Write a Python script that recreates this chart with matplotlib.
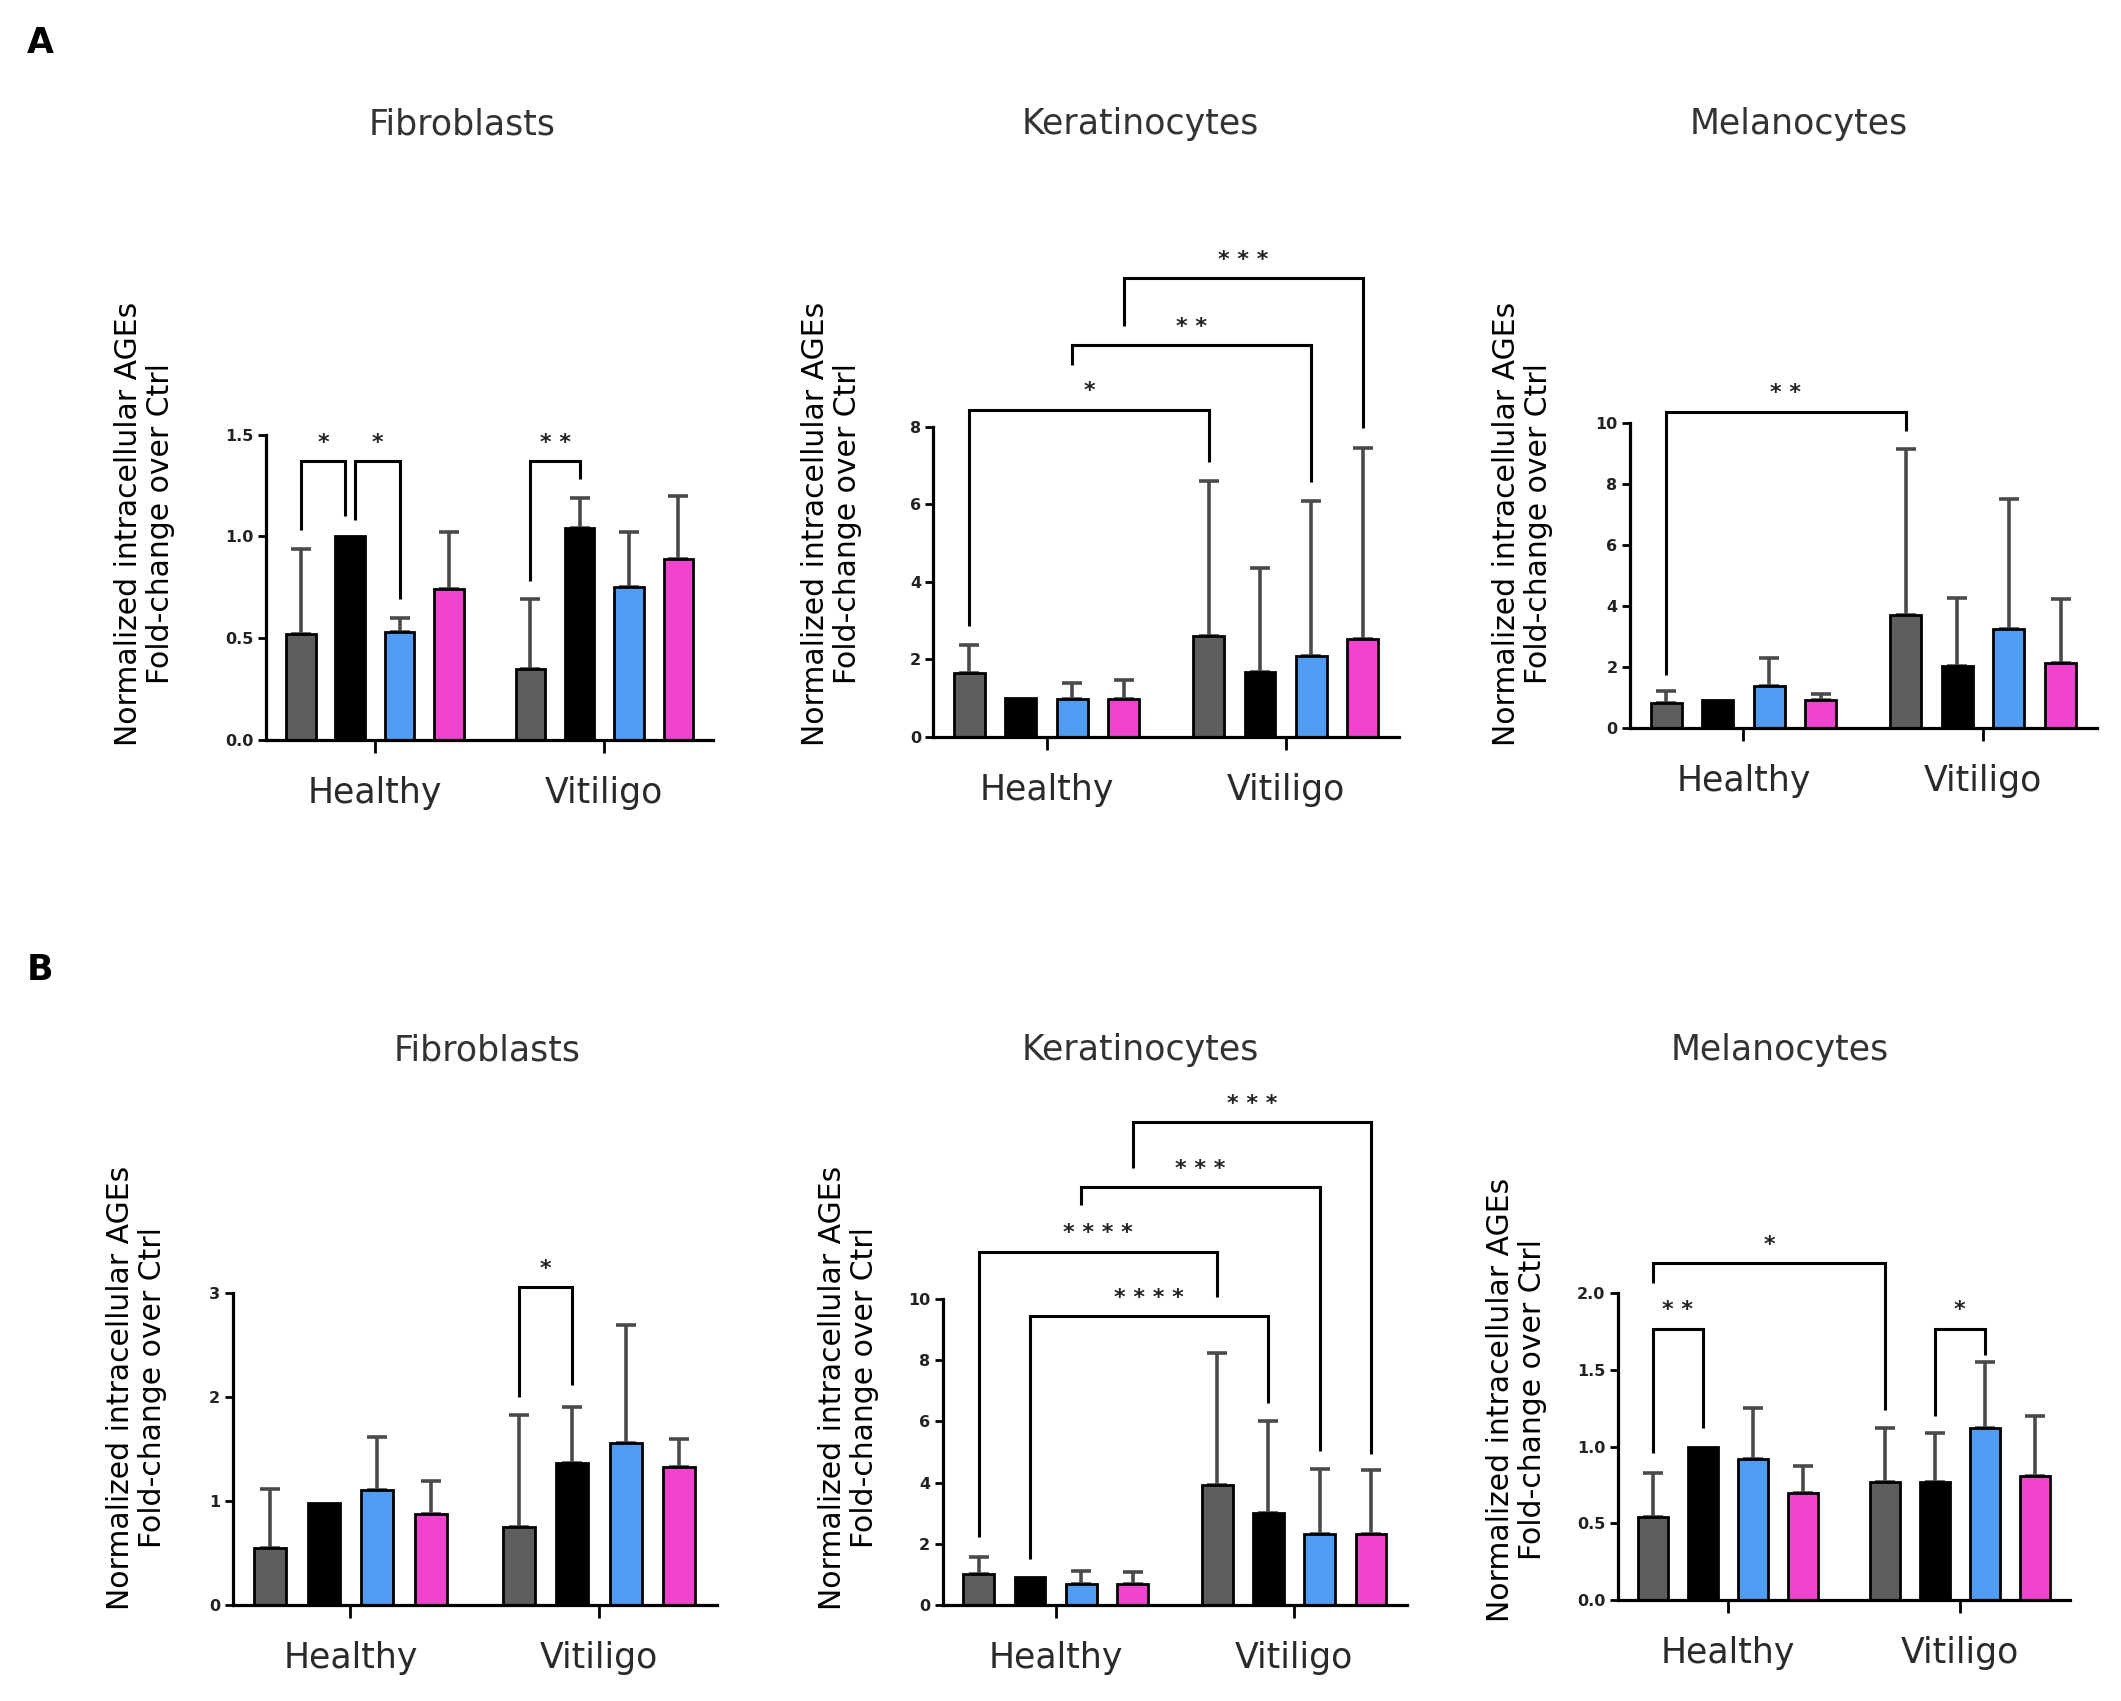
import matplotlib

matplotlib.use("Agg")
import matplotlib.pyplot as plt
import numpy as np


GROUPS = ["Healthy", "Vitiligo"]
BAR_COLORS = ["#5e5e5e", "#000000", "#519cf3", "#f044cf"]
ERR_COLOR = "#4a4a4a"
YLABEL = "Normalized intracellular AGEs\nFold-change over Ctrl"

# bar heights (4 conditions in Healthy, then 4 in Vitiligo) and upper SD
fib_a_mean = [0.52, 1.00, 0.53, 0.74, 0.35, 1.04, 0.75, 0.89]
fib_a_sd = [0.42, 0.00, 0.07, 0.28, 0.34, 0.15, 0.27, 0.31]
ker_a_mean = [1.66, 1.00, 0.97, 0.97, 2.61, 1.67, 2.10, 2.53]
ker_a_sd = [0.70, 0.00, 0.42, 0.51, 3.99, 2.69, 3.99, 4.93]
mel_a_mean = [0.80, 0.91, 1.35, 0.91, 3.68, 2.02, 3.25, 2.13]
mel_a_sd = [0.40, 0.00, 0.93, 0.19, 5.44, 2.22, 4.25, 2.08]

fib_b_mean = [0.55, 0.98, 1.11, 0.88, 0.75, 1.37, 1.56, 1.33]
fib_b_sd = [0.57, 0.00, 0.51, 0.32, 1.08, 0.54, 1.14, 0.27]
ker_b_mean = [1.02, 0.91, 0.69, 0.69, 3.91, 3.02, 2.34, 2.34]
ker_b_sd = [0.55, 0.00, 0.43, 0.40, 4.31, 2.99, 2.10, 2.06]
mel_b_mean = [0.54, 1.00, 0.92, 0.70, 0.77, 0.77, 1.12, 0.81]
mel_b_sd = [0.29, 0.00, 0.33, 0.17, 0.35, 0.32, 0.43, 0.39]

# significance brackets: (bar i, bar j, stars, bracket height, left leg end, right leg end)
fib_a_sig = [(0, 1, "*", 1.37, 1.03, 1.10), (1, 2, "*", 1.37, 1.08, 0.69), (4, 5, "**", 1.37, 0.78, 1.28)]
ker_a_sig = [(0, 4, "*", 8.44, 2.85, 7.09), (2, 6, "**", 10.1, 9.6, 6.56), (3, 7, "***", 11.82, 10.59, 7.97)]
mel_a_sig = [(0, 4, "**", 10.36, 1.72, 9.72)]
fib_b_sig = [(4, 5, "*", 3.06, 2.0, 2.12)]
ker_b_sig = [(0, 4, "****", 11.54, 2.21, 10.06), (1, 5, "****", 9.45, 1.51, 6.59),
             (2, 6, "***", 13.64, 13.06, 5.04), (3, 7, "***", 15.75, 14.27, 4.95)]
mel_b_sig = [(0, 1, "**", 1.77, 0.96, 1.12), (0, 4, "*", 2.20, 2.07, 1.24), (5, 6, "*", 1.77, 1.20, 1.60)]

fib_a_ticks = [0, 0.5, 1.0, 1.5]
ker_a_ticks = [0, 2, 4, 6, 8]
mel_a_ticks = [0, 2, 4, 6, 8, 10]
fib_b_ticks = [0, 1, 2, 3]
ker_b_ticks = [0, 2, 4, 6, 8, 10]
mel_b_ticks = [0, 0.5, 1.0, 1.5, 2.0]

# layout in figure fractions (left, bottom, width, height), title x/y, ylabel x/y
PANELS = [
    ("Fibroblasts", fib_a_mean, fib_a_sd, fib_a_sig, fib_a_ticks, "{:.1f}", [0.1256, 0.5651, 0.2105, 0.1794], 0.218, 0.927, 0.068, 0.692),
    ("Keratinocytes", ker_a_mean, ker_a_sd, ker_a_sig, ker_a_ticks, "{:.0f}", [0.4401, 0.5667, 0.2194, 0.1825], 0.5376, 0.927, 0.392, 0.692),
    ("Melanocytes", mel_a_mean, mel_a_sd, mel_a_sig, mel_a_ticks, "{:.0f}", [0.7685, 0.5722, 0.2200, 0.1794], 0.848, 0.927, 0.718, 0.692),
    ("Fibroblasts", fib_b_mean, fib_b_sd, fib_b_sig, fib_b_ticks, "{:.0f}", [0.1097, 0.0563, 0.2283, 0.1833], 0.2296, 0.3825, 0.0645, 0.184),
    ("Keratinocytes", ker_b_mean, ker_b_sd, ker_b_sig, ker_b_ticks, "{:.0f}", [0.4445, 0.0563, 0.2188, 0.1802], 0.5376, 0.3825, 0.400, 0.184),
    ("Melanocytes", mel_b_mean, mel_b_sd, mel_b_sig, mel_b_ticks, "{:.1f}", [0.7628, 0.0595, 0.2130, 0.1802], 0.8393, 0.3825, 0.715, 0.177),
]

GROUP_GAP = 1.65
X = np.r_[np.arange(4), np.arange(4) + 3 + GROUP_GAP]
CENTERS = [X[:4].mean(), X[4:].mean()]


def _bracket(ax, x1, x2, top, y1, y2, label):
    ax.plot([x1, x1, x2, x2], [y1, top, top, y2], color="black", lw=2.2,
            clip_on=False, solid_joinstyle="miter", solid_capstyle="butt")
    ax.annotate(" ".join(label), xy=((x1 + x2) / 2, top), xytext=(0, 13),
                textcoords="offset points", ha="center", va="center",
                fontsize=16, fontweight="bold", color="#222222", annotation_clip=False)


def draw_panel(fig, title, mean, sd, sig, ticks, fmt, rect, tx, ty, lx, ly):
    ax = fig.add_axes(rect)
    mean = np.asarray(mean)
    sd = np.asarray(sd)
    colors = BAR_COLORS * 2

    has_err = sd > 0
    ax.errorbar(X[has_err], mean[has_err], yerr=[np.zeros(has_err.sum()), sd[has_err]],
                fmt="none", ecolor=ERR_COLOR, elinewidth=2.6, capsize=7, capthick=2.6, zorder=1)
    ax.bar(X, mean, width=0.6, color=colors, edgecolor="black", linewidth=2, zorder=2)

    for k, (i, j, label, top, y1, y2) in enumerate(sig):
        x1, x2 = X[i], X[j]
        for m, other in enumerate(sig):
            if m == k or other[3] != top:
                continue
            if j == other[0]:
                x2 -= 0.1
            if i == other[1]:
                x1 += 0.1
        _bracket(ax, x1, x2, top, y1, y2, label)

    ax.set_xlim(-0.7, X[-1] + 0.7)
    ax.set_ylim(0, ticks[-1])
    ax.set_yticks(ticks)
    ax.set_yticklabels([fmt.format(t) for t in ticks], fontsize=11.5, fontweight="bold", color="#222222")
    ax.set_xticks(CENTERS)
    ax.set_xticklabels(GROUPS, fontsize=25, color="#2a2a2a")
    ax.tick_params(axis="y", direction="out", length=6, width=2, pad=3)
    ax.tick_params(axis="x", direction="out", length=9, width=2, pad=17)
    for side in ("top", "right"):
        ax.spines[side].set_visible(False)
    for side in ("left", "bottom"):
        ax.spines[side].set_linewidth(2.3)

    fig.text(tx, ty, title, ha="center", va="center", fontsize=25, color="#333333")
    fig.text(lx, ly, YLABEL, rotation=90, ha="center", va="center",
             multialignment="center", fontsize=21.5, color="black", linespacing=1.12)
    return ax


fig = plt.figure(figsize=(21.21, 17.01), dpi=100)
for panel in PANELS:
    draw_panel(fig, *panel)

fig.text(0.019, 0.975, "A", fontsize=25, fontweight="bold", ha="center", va="center")
fig.text(0.019, 0.430, "B", fontsize=25, fontweight="bold", ha="center", va="center")

fig.savefig("out.png", dpi=100)
